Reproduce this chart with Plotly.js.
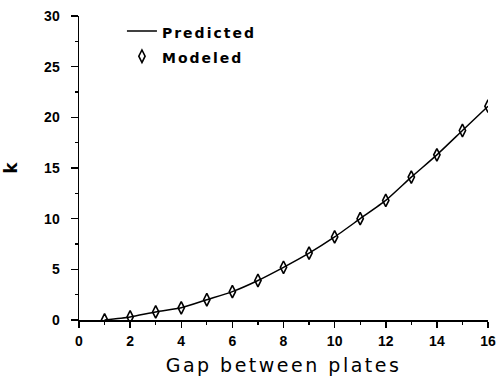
<!DOCTYPE html>
<html>
<head>
<meta charset="utf-8">
<script src="https://cdn.plot.ly/plotly-3.0.1.min.js"></script>
<style>
  html, body { margin: 0; padding: 0; background: #fff; }
  #chart { width: 498px; height: 377px; }
  .legendtext { letter-spacing: 2px; font-size: 14px !important; }
  .g-xtitle text { letter-spacing: 2.5px; }
</style>
</head>
<body>
<div id="chart"></div>
<script>
// Gap between plates (x) and k values
const gaps = [1, 2, 3, 4, 5, 6, 7, 8, 9, 10, 11, 12, 13, 14, 15, 16];
const predictedK = [0.0, 0.3, 0.8, 1.2, 2.0, 2.8, 3.9, 5.2, 6.6, 8.2, 10.0, 11.8, 14.1, 16.3, 18.7, 21.1];
const modeledK   = [0.0, 0.3, 0.8, 1.2, 2.0, 2.8, 3.9, 5.2, 6.6, 8.2, 10.0, 11.8, 14.1, 16.3, 18.7, 21.1];
const seriesNames = ['Predicted', 'Modeled'];
const xTicks = [0, 2, 4, 6, 8, 10, 12, 14, 16];
const yTicks = [0, 5, 10, 15, 20, 25, 30];

const tickFont = { family: 'Liberation Sans, Arial, sans-serif', size: 14, color: '#000', weight: 'bold' };

const traces = [
  {
    x: gaps, y: predictedK, name: seriesNames[0],
    type: 'scatter', mode: 'lines',
    line: { color: '#000', width: 1.5, shape: 'spline', smoothing: 0.6 }
  },
  {
    x: gaps, y: modeledK, name: seriesNames[1],
    type: 'scatter', mode: 'markers',
    marker: { symbol: 'diamond-tall-open', size: 9, color: '#000', line: { color: '#000', width: 1.6 } }
  }
];

const layout = {
  width: 498, height: 377,
  margin: { l: 79, r: 10, t: 16, b: 57 },
  paper_bgcolor: '#fff', plot_bgcolor: '#fff',
  showlegend: true,
  legend: {
    x: 0.105, y: 1.008, xanchor: 'left', yanchor: 'top',
    bgcolor: 'rgba(0,0,0,0)',
    font: { family: 'DejaVu Sans, sans-serif', size: 17, color: '#000', weight: 'bold' },
    tracegroupgap: 0
  },
  xaxis: {
    range: [0, 16], tickvals: xTicks, ticktext: xTicks.map(String),
    showgrid: false, zeroline: false, showline: true, linecolor: '#000', linewidth: 1.5,
    ticks: 'outside', ticklen: 6, tickwidth: 1.5, tickcolor: '#000',
    minor: { dtick: 1, ticks: 'outside', ticklen: 3, tickwidth: 1.2, tickcolor: '#000', showgrid: false },
    tickfont: tickFont, ticklabelstandoff: 2,
    title: { text: 'Gap between plates', font: { family: 'DejaVu Sans, sans-serif', size: 19, color: '#000' }, standoff: 10 }
  },
  yaxis: {
    range: [0, 30], tickvals: yTicks, ticktext: yTicks.map(String),
    showgrid: false, zeroline: false, showline: true, linecolor: '#000', linewidth: 1.5,
    ticks: 'outside', ticklen: 7, tickwidth: 1.5, tickcolor: '#000',
    minor: { dtick: 2.5, ticks: 'outside', ticklen: 3, tickwidth: 1.2, tickcolor: '#000', showgrid: false },
    tickfont: tickFont, ticklabelstandoff: 8,
    title: { text: 'k', font: { family: 'DejaVu Sans, sans-serif', size: 17, color: '#000', weight: 'bold' }, standoff: 22 }
  }
};

Plotly.newPlot('chart', traces, layout, { displayModeBar: false, staticPlot: true });
</script>
</body>
</html>
